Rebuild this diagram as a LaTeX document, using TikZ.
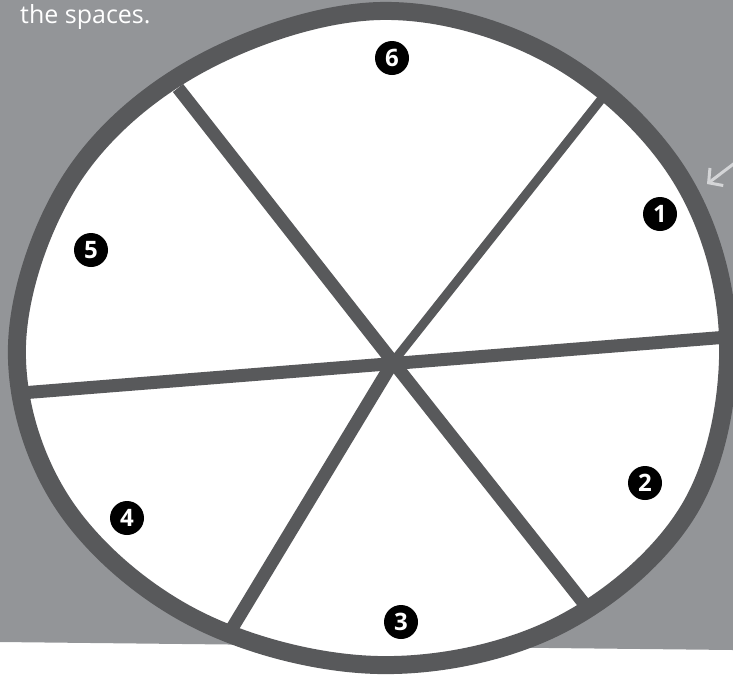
\documentclass[tikz,border=0pt]{standalone}
\usepackage{fontspec}
\setmainfont{Open Sans}
\usetikzlibrary{arrows.meta}
\definecolor{bggray}{HTML}{939598}
\definecolor{rimgray}{HTML}{58595B}
\definecolor{arrowgray}{HTML}{D4D5D7}
\newcommand{\wheelpath}{plot[smooth cycle, tension=0.6] coordinates {(728,338) (690,508)
  (558,626) (378,665) (194,618) (62,502) (17,345) (72,178) (200,64) (380,11)
  (552,56) (680,176)}}
\begin{document}
\begin{tikzpicture}[
    x=1pt, y=-1pt,
    >={Straight Barb[length=10pt,width=22pt]},
    rim/.style={draw=rimgray, line width=18pt},
    spoke/.style={draw=rimgray, line width=13pt},
    num/.style={circle, fill=black, text=white, minimum size=34pt, inner sep=0pt,
      font=\bfseries\fontsize{24}{24}\selectfont}
]
  \useasboundingbox (0,0) rectangle (733,678);
  % background
  \fill[bggray] (0,0) -- (733,0) -- (733,650) -- (0,642) -- cycle;
  \node[text=white, anchor=base west, inner sep=0pt,
    font=\fontsize{25}{25}\selectfont] (caption) at (20,23) {the spaces.};

  % wheel
  \fill[white] \wheelpath;
  \coordinate (hub) at (393,362);
  \coordinate (nw) at (178,88);
  \coordinate (se) at (586,606);
  \coordinate (ne) at (607,92);
  \coordinate (sw) at (231,630);
  \coordinate (w)  at (21,393);
  \coordinate (e)  at (728,337);

  % spokes
  \draw[spoke] (nw) -- (hub) -- (se);
  \draw[spoke] (w) -- (e);
  \draw[spoke] (hub) -- (sw);
  \draw[spoke, line width=9pt] (hub) -- (ne);
  \draw[rim] \wheelpath;

  % numbers
  \node[num] (n1) at (660,214) {1};
  \node[num] (n2) at (645,483) {2};
  \node[num] (n3) at (401,622) {3};
  \node[num] (n4) at (127,518) {4};
  \node[num] (n5) at (91,250)  {5};
  \node[num] (n6) at (392,58)  {6};

  % pointer
  \coordinate (ptail) at (752,150);
  \coordinate (ptip) at (707,184);
  \draw[arrowgray, line width=3pt, ->] (ptail) -- (ptip);
\end{tikzpicture}
\end{document}
